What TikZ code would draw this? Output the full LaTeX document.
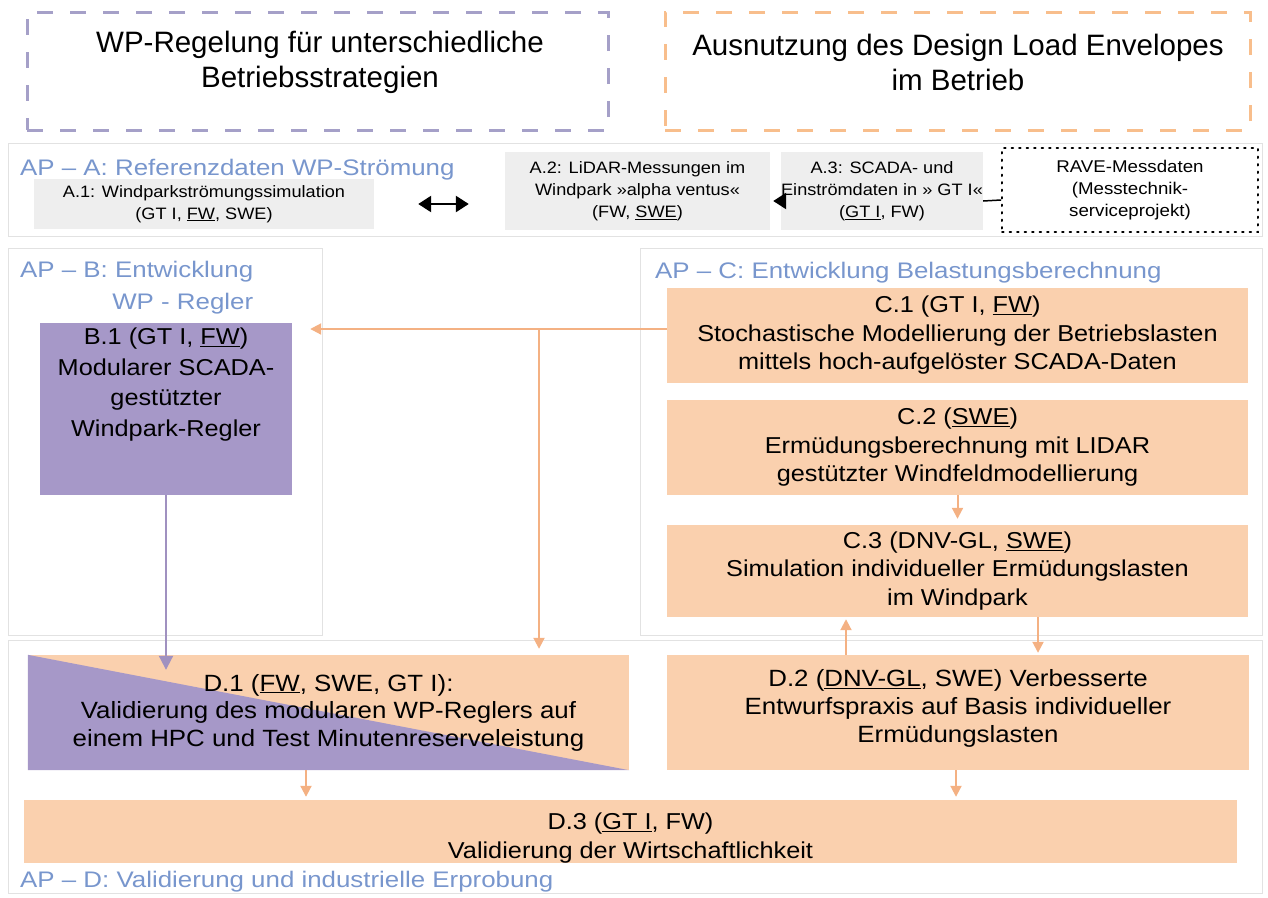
\documentclass[tikz,border=0pt]{standalone}
\usepackage{fontspec}
\setmainfont{Liberation Sans}
\newfontfamily\wf{Liberation Sans}[FakeStretch=1.1]
\newfontfamily\tf{Liberation Sans}[FakeStretch=1.15]
\usetikzlibrary{arrows.meta}
\definecolor{ofill}{RGB}{250,208,174}
\definecolor{pfill}{RGB}{166,152,200}
\definecolor{oline}{RGB}{244,177,131}
\definecolor{pline}{RGB}{160,145,192}
\definecolor{tblue}{RGB}{120,150,205}
\definecolor{gfill}{RGB}{238,238,238}
\definecolor{frame}{RGB}{226,226,226}
\definecolor{lav}{RGB}{165,160,200}
\definecolor{odash}{RGB}{248,190,140}
\tikzset{ktip/.tip={Triangle[length=13pt,width=16pt]}}
\begin{document}
\begin{tikzpicture}[x=1pt,y=-1pt,
  box/.style={fill=ofill,draw=none,inner sep=0pt,align=center,font=\wf\fontsize{23}{28.5}\selectfont},
  gbox/.style={fill=gfill,draw=none,inner sep=0pt,align=center,font=\wf\fontsize{16.5}{22}\selectfont},
  ptitle/.style={text=tblue,inner sep=0pt,font=\tf\fontsize{22.5}{32}\selectfont},
  panel/.style={draw=frame,line width=1pt,fill=none,inner sep=0pt},
  bigtitle/.style={inner sep=0pt,align=center,font=\fontsize{29.5}{35}\selectfont},
  oarrow/.style={draw=oline,line width=2pt,-{Triangle[length=11pt,width=11pt]}},
  parrow/.style={draw=pline,line width=2pt,-{Triangle[length=14pt,width=14pt]}},
  karrow/.style={draw=black,line width=2.5pt},
]
\useasboundingbox (0,0) rectangle (1268,897);

% top goal boxes
\node[draw=lav,line width=3pt,dash pattern=on 16pt off 17pt,minimum width=581pt,minimum height=118pt,inner sep=0pt] (G1) at (317.5,71) {};
\node[bigtitle] (G1t) at (320,62) {WP-Regelung für unterschiedliche\\Betriebsstrategien};
\node[draw=odash,line width=3pt,dash pattern=on 16pt off 17pt,minimum width=585pt,minimum height=118pt,inner sep=0pt] (G2) at (957.5,71) {};
\node[bigtitle] (G2t) at (958,62) {Ausnutzung des Design Load Envelopes\\im Betrieb};

% panel frames
\node[panel,minimum width=1254pt,minimum height=93pt] (PA) at (635,189.5) {};
\node[panel,minimum width=314pt,minimum height=387pt] (PB) at (165,441.5) {};
\node[panel,minimum width=622pt,minimum height=387pt] (PC) at (951,441.5) {};
\node[panel,minimum width=1254pt,minimum height=253pt] (PD) at (635,766.5) {};

% AP-A
\node[ptitle,anchor=base west] (TA) at (20,175) {AP – A: Referenzdaten WP-Strömung};
\node[gbox,minimum width=340pt,minimum height=50pt] (A1) at (204,204) {A.1: Windparkströmungssimulation\\(GT I, \underline{FW}, SWE)};
\node[gbox,minimum width=265pt,minimum height=78pt] (A2) at (637.5,191) {A.2: LiDAR-Messungen im\\Windpark »alpha ventus«\\(FW, \underline{SWE})};
\node[gbox,minimum width=188pt,minimum height=78pt] (A3) at (882,191) {A.3: SCADA- und\\Einströmdaten in » GT I«\\(\underline{GT I}, FW)};
\node[draw=black,line width=2pt,dash pattern=on 1.5pt off 6pt,line cap=round,minimum width=256pt,minimum height=84pt,inner sep=0pt,align=center,font=\wf\fontsize{17}{22}\selectfont] (RV) at (1130,190) {RAVE-Messdaten\\(Messtechnik-\\serviceprojekt)};
\draw[karrow,{ktip}-{ktip},shorten <=44pt,shorten >=36pt] (A1.east) -- (A1.east -| A2.west);
\draw[karrow,-{ktip},shorten >=3pt] ([yshift=-10pt]A3.west) -- ([yshift=-10pt]A2.east);
\draw[black,line width=1.5pt] ([yshift=-10pt]RV.west) -- ([yshift=-10pt]A3.east);

% AP-B
\node[ptitle,anchor=north west,align=right] (TB) at (20,261) {AP – B: Entwicklung\\WP - Regler};
\node[fill=pfill,minimum width=252pt,minimum height=172pt,inner sep=0pt] (B1) at (166,409) {};
\node[inner sep=0pt,align=center,anchor=north,font=\wf\fontsize{23}{30.5}\selectfont] (B1t) at ([yshift=-5pt]B1.north) {B.1 (GT I, \underline{FW})\\Modularer SCADA-\\gestützter\\Windpark-Regler};

% AP-C
\node[ptitle,anchor=base west] (TC) at (655,278) {AP – C: Entwicklung Belastungsberechnung};
\node[box,minimum width=581pt,minimum height=95pt] (C1) at (957.5,335.5) {C.1 (GT I, \underline{FW})\\Stochastische Modellierung der Betriebslasten\\mittels hoch-aufgelöster SCADA-Daten};
\node[box,minimum width=581pt,minimum height=95pt] (C2) at (957.5,447.5) {C.2 (\underline{SWE})\\Ermüdungsberechnung mit LIDAR\\gestützter Windfeldmodellierung};
\node[box,minimum width=581pt,minimum height=92pt] (C3) at (957.5,571) {C.3 (DNV-GL, \underline{SWE})\\Simulation individueller Ermüdungslasten\\im Windpark};

% AP-D
\node[box,minimum width=601pt,minimum height=115pt] (D1) at (328.5,712.5) {};
\fill[pfill] (D1.north west) -- (D1.south west) -- (D1.south east) -- cycle;
\node[inner sep=0pt,align=center,font=\wf\fontsize{23.5}{27.5}\selectfont] (D1t) at (D1.center) {D.1 (\underline{FW}, SWE, GT I):\\Validierung des modularen WP-Reglers auf\\einem HPC und Test Minutenreserveleistung};
\node[box,minimum width=582pt,minimum height=115pt] (D2) at (958,712.5) {};
\node[inner sep=0pt,align=center,font=\wf\fontsize{23.5}{28}\selectfont] (D2t) at ([yshift=4pt]D2.center) {D.2 (\underline{DNV-GL}, SWE) Verbesserte\\Entwurfspraxis auf Basis individueller\\Ermüdungslasten};
\node[box,minimum width=1213pt,minimum height=63pt] (D3) at (630.5,831.5) {};
\node[inner sep=0pt,align=center,font=\wf\fontsize{23}{29}\selectfont] (D3t) at ([yshift=-7pt]D3.center) {D.3 (\underline{GT I}, FW)\\Validierung der Wirtschaftlichkeit};
\node[ptitle,anchor=base west] (TD) at (20,887) {AP – D: Validierung und industrielle Erprobung};

% connectors
\coordinate (br) at (539,329);
\draw[oarrow,shorten >=18pt] ([yshift=6.5pt]C1.west) -- ([yshift=6.5pt]C1.west -| B1.east);
\draw[oarrow,shorten >=6pt] (br) -- (br |- D1.north);
\draw[parrow,shorten >=-15pt] (B1.south) -- (B1.south |- D1.north);
\draw[oarrow,shorten >=6pt] (C2.south) -- (C3.north);
\draw[oarrow,shorten >=2pt] (D2.north -| 846,0) -- (C3.south -| 846,0);
\draw[oarrow,shorten >=2pt] (C3.south -| 1038,0) -- (D2.north -| 1038,0);
\draw[oarrow,shorten >=3pt] (D1.south -| 306,0) -- (D3.north -| 306,0);
\draw[oarrow,shorten >=3pt] (D2.south -| 956,0) -- (D3.north -| 956,0);
\end{tikzpicture}
\end{document}
